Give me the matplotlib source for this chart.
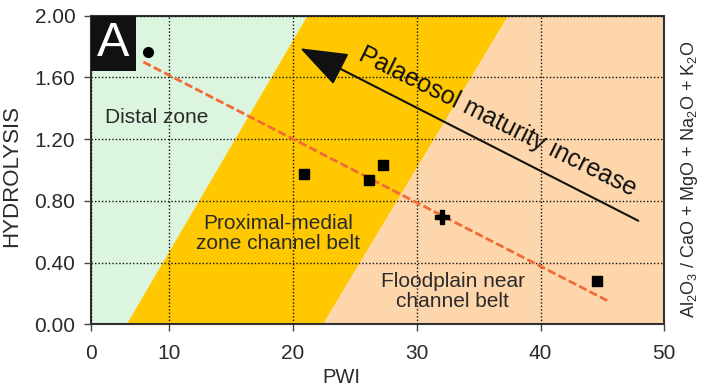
import numpy as np
import matplotlib.pyplot as plt
from matplotlib.patches import Polygon, Rectangle

plt.rcParams["font.family"] = ["Liberation Sans", "DejaVu Sans"]
plt.rcParams["mathtext.fontset"] = "custom"
plt.rcParams["mathtext.rm"] = "Liberation Sans"

# --- data -------------------------------------------------------------
sq_x = [20.9, 26.1, 27.3, 44.6]          # black squares
sq_y = [0.974, 0.935, 1.032, 0.283]
circ_x = [7.25]                           # black circle
circ_y = [1.763]
plus_x = [32.0]                           # black cross
plus_y = [0.693]

reg_x = [6.7, 45.6]                       # dashed trend line
reg_y = [1.70, 0.145]

# zone boundaries (x at HYDROLYSIS = 0 and at 2.0)
b1 = [4.58, 21.17]
b2 = [22.45, 37.4]

xticks = [0, 10, 20, 30, 40, 50]
yticks = [0.0, 0.4, 0.8, 1.2, 1.6, 2.0]

C_GREEN = "#dcf5de"
C_ORANGE = "#ffc800"
C_PEACH = "#fdd7ab"
C_TEXT = "#2b2b2b"

# first decade of the PWI axis is squeezed in the original figure
K = 0.6354


def fwd(x):
    x = np.asarray(x, dtype=float)
    return np.where(x < 10, x * K, x - 10 + 10 * K)


def inv(y):
    y = np.asarray(y, dtype=float)
    return np.where(y < 10 * K, y / K, y + 10 - 10 * K)


fig = plt.figure(figsize=(7.04, 3.87), dpi=100)
ax = fig.add_axes([0.1288, 0.162, 0.8148, 0.7974])
ax.set_xscale("function", functions=(fwd, inv))
ax.set_xlim(0, 50)
ax.set_ylim(0, 2)

# background zones
ax.add_patch(Polygon([(0, 0), (b1[0], 0), (b1[1], 2), (0, 2)],
                     closed=True, fc=C_GREEN, ec="none", zorder=0))
ax.add_patch(Polygon([(b1[0], 0), (b2[0], 0), (b2[1], 2), (b1[1], 2)],
                     closed=True, fc=C_ORANGE, ec="none", zorder=0))
ax.add_patch(Polygon([(b2[0], 0), (50, 0), (50, 2), (b2[1], 2)],
                     closed=True, fc=C_PEACH, ec="none", zorder=0))

ax.set_xticks(xticks)
ax.set_xticklabels([str(v) for v in xticks])
ax.set_yticks(yticks)
ax.set_yticklabels([f"{v:.2f}" for v in yticks])
ax.grid(True, color="#111111", linestyle=(0, (1, 1.5)), linewidth=1.0, zorder=1)
ax.set_axisbelow(False)
ax.tick_params(direction="out", length=5, width=1, colors="#444444",
               labelcolor=C_TEXT, labelsize=15, pad=6)
ax.tick_params(axis="x", pad=9)
for sp in ax.spines.values():
    sp.set_color("#333333")
    sp.set_linewidth(1.5)

# trend line and samples
ax.plot(reg_x, reg_y, color="#f26a38", lw=2, dashes=(3, 1.2), zorder=3)
ax.plot(sq_x, sq_y, "ks", ms=7.5, zorder=4)
ax.plot(circ_x, circ_y, "ko", ms=7, zorder=4)
ax.plot(plus_x, plus_y, "kP", ms=9.5, zorder=4)

# maturity arrow
ax.annotate("", xy=(20.57, 1.789), xytext=(47.9, 0.671),
            arrowprops=dict(arrowstyle="-|>,head_length=1.5,head_width=0.55",
                            mutation_scale=20, color="#111111", lw=1.5,
                            shrinkA=0, shrinkB=0), zorder=5)
ax.text(36.5, 1.311, "Palaeosol maturity increase", rotation=-26.5,
        rotation_mode="anchor", ha="center", va="center", fontsize=18,
        color="#111111", zorder=5)

# zone labels
ax.text(1.82, 1.343, "Distal zone", ha="left", va="center", fontsize=15,
        color=C_TEXT, zorder=5)
ax.text(18.8, 0.59, "Proximal-medial\nzone channel belt", ha="center",
        va="center", fontsize=15, linespacing=1.1, color=C_TEXT, zorder=5)
ax.text(32.9, 0.213, "Floodplain near\nchannel belt", ha="center",
        va="center", fontsize=15, linespacing=1.1, color=C_TEXT, zorder=5)

# panel letter
ax.add_patch(Rectangle((0, 1 - 0.179), 0.079, 0.179, transform=ax.transAxes,
                       fc="#111111", ec="none", zorder=6))
ax.text(0.0395, 0.9115, "A", transform=ax.transAxes, ha="center",
        va="center", fontsize=35, color="white", zorder=7)

# axis titles
fig.text(0.4844, 0.0233, "PWI", ha="center", va="center", fontsize=14.5,
         color=C_TEXT)
fig.text(0.017, 0.545, "HYDROLYSIS", rotation=90, ha="center", va="center",
         fontsize=16, color=C_TEXT)
fig.text(0.980, 0.537,
         r"Al$\mathregular{_2}$O$\mathregular{_3}$ / CaO + MgO + "
         r"Na$\mathregular{_2}$O + K$\mathregular{_2}$O",
         rotation=90, ha="center", va="center", fontsize=13, color=C_TEXT)

fig.savefig("out.png", dpi=100)
